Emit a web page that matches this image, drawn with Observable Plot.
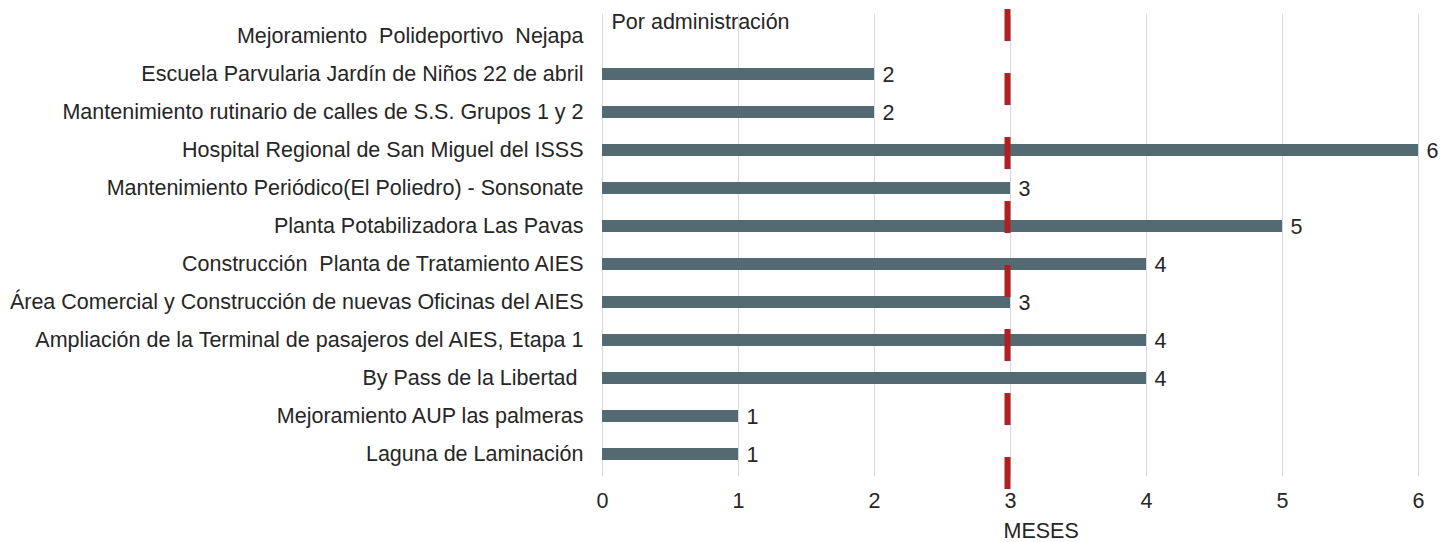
<!DOCTYPE html>
<html>
<head>
<meta charset="utf-8">
<script src="https://cdn.jsdelivr.net/npm/d3@7"></script>
<script src="https://cdn.jsdelivr.net/npm/@observablehq/plot@0.6"></script>
<style>
  html, body { margin: 0; padding: 0; background: #fff; }
  svg text { white-space: pre; }
</style>
</head>
<body>
<div id="chart"></div>
<script>
const projects = [
  "Mejoramiento  Polideportivo  Nejapa",
  "Escuela Parvularia Jardín de Niños 22 de abril",
  "Mantenimiento rutinario de calles de S.S. Grupos 1 y 2",
  "Hospital Regional de San Miguel del ISSS",
  "Mantenimiento Periódico(El Poliedro) - Sonsonate",
  "Planta Potabilizadora Las Pavas",
  "Construcción  Planta de Tratamiento AIES",
  "Área Comercial y Construcción de nuevas Oficinas del AIES",
  "Ampliación de la Terminal de pasajeros del AIES, Etapa 1",
  "By Pass de la Libertad ",
  "Mejoramiento AUP las palmeras",
  "Laguna de Laminación"
];
const months = [null, 2, 2, 6, 3, 5, 4, 3, 4, 4, 1, 1];
const xTicks = [0, 1, 2, 3, 4, 5, 6];
const referenceMonths = 3;
const title = "Por administración";
const xLabel = "MESES";

const data = projects.map((p, i) => ({project: p, value: months[i]}));
const bars = data.filter(d => d.value != null);

const font = "'Liberation Sans', Arial, sans-serif";
const textColor = "#262626";
const fs = 21.5;

const chart = Plot.plot({
  width: 1452,
  height: 542,
  marginLeft: 602,
  marginRight: 34,
  marginTop: 14,
  marginBottom: 66,
  style: {fontFamily: font, fontSize: fs + "px", color: textColor, background: "#fff"},
  x: {domain: [0, 6], ticks: xTicks, tickFormat: "d", grid: false},
  y: {domain: projects, paddingInner: 0.69, paddingOuter: 0.345},
  marks: [
    Plot.gridX(xTicks, {stroke: "#d9d9d9", strokeOpacity: 1, strokeWidth: 1}),
    Plot.axisX({ticks: xTicks, tickFormat: "d", tickSize: 0, tickPadding: 16, label: null, fontSize: fs, fill: textColor}),
    Plot.axisY({tickSize: 0, tickPadding: 19, label: null, fontSize: fs, fill: textColor}),
    Plot.barX(bars, {x: "value", y: "project", fill: "#546a73"}),
    Plot.text(bars, {x: "value", y: "project", text: d => String(d.value), textAnchor: "start", dx: 8, dy: 1, fontSize: fs, fill: textColor}),
    Plot.ruleX([referenceMonths], {stroke: "#b01f24", strokeWidth: 6, strokeDasharray: "32,32", insetTop: -5, insetBottom: -15, dx: -3}),
    Plot.text([title], {frameAnchor: "top-left", textAnchor: "start", lineAnchor: "middle", dx: 9, dy: 8, fontSize: fs, fill: textColor}),
    Plot.text([xLabel], {x: referenceMonths, frameAnchor: "bottom", textAnchor: "start", lineAnchor: "middle", dx: -7, dy: 55, fontSize: fs, fill: textColor})
  ]
});
document.getElementById("chart").appendChild(chart);
</script>
</body>
</html>
